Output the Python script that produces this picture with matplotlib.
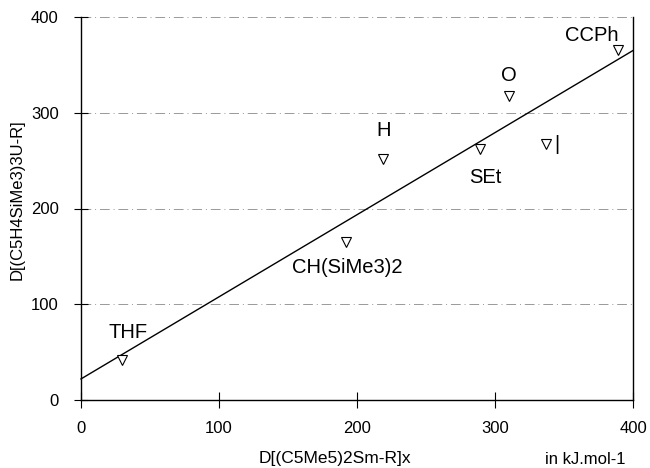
import matplotlib
matplotlib.use("Agg")
import matplotlib.pyplot as plt
import numpy as np

plt.rcParams['font.family'] = ['Liberation Sans', 'DejaVu Sans']

# data
labels = ["THF", "CH(SiMe3)2", "H", "SEt", "O", "I", "CCPh"]
x_vals = [30, 192, 219, 289, 310, 337, 389]
y_vals = [42, 165, 252, 262, 318, 267, 366]
label_x = [34, 193, 219, 293, 310, 345, 370]
label_y = [71, 138, 281, 232, 339, 267, 381]
fit_intercept = 22
fit_slope = 0.8575
fit_range = [0, 400]
x_ticks = [0, 100, 200, 300, 400]
y_ticks = [0, 100, 200, 300, 400]

fig = plt.figure(figsize=(6.5, 4.68), dpi=100)
ax = fig.add_axes([81/650, 68/468, 552/650, 383/468])
ax.set_xlim(0, 400)
ax.set_ylim(0, 400)

for yv in y_ticks[1:]:
    ax.axhline(yv, color='#999999', lw=0.7, ls=(0, (10, 4, 1, 4)), zorder=0)

fx = np.array(fit_range, dtype=float)
ax.plot(fx, fit_intercept + fit_slope * fx, color='black', lw=1.0, clip_on=False)

ax.plot(x_vals, y_vals, linestyle='none', marker='v', ms=7, mfc='white',
        mec='black', mew=0.8, zorder=3)

for lab, lx, ly in zip(labels, label_x, label_y):
    txt = lab if lab != "I" else "|"
    ax.text(lx, ly, txt, ha='center', va='center', fontsize=14.5)

ax.spines['top'].set_visible(False)
for s in ['left', 'bottom', 'right']:
    ax.spines[s].set_color('black')
    ax.spines[s].set_linewidth(1.0)

ax.set_xticks(x_ticks)
ax.set_yticks(y_ticks)
ax.tick_params(axis='x', direction='inout', length=12, width=0.8, pad=9, labelsize=12)
ax.tick_params(axis='y', direction='inout', length=10, width=0.8, pad=11, labelsize=12)

fig.text(335/650, 1 - 459/468, "D[(C5Me5)2Sm-R]x", ha='center', va='center', fontsize=12.5)
fig.text(585/650, 1 - 459/468, "in kJ.mol-1", ha='center', va='center', fontsize=12)
fig.text(17/650, 1 - 200/468, "D[(C5H4SiMe3)3U-R]", ha='center', va='center',
         fontsize=12, rotation=90)

fig.savefig("out.png", dpi=100)
